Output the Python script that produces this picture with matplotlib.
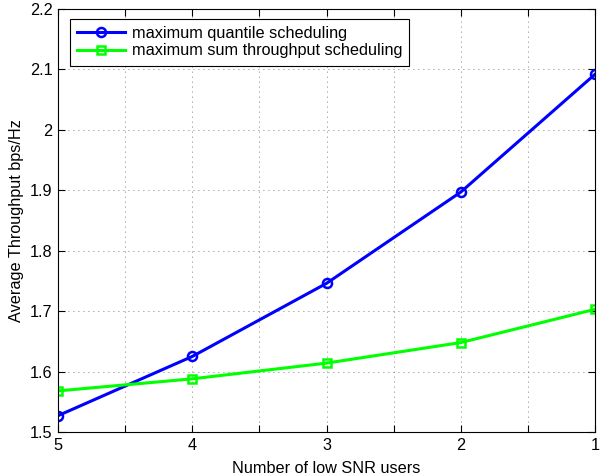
import matplotlib
matplotlib.use("Agg")
import matplotlib.pyplot as plt
from matplotlib.ticker import MultipleLocator, FuncFormatter

plt.rcParams['font.family'] = ['Liberation Sans', 'DejaVu Sans']

users = [5, 4, 3, 2, 1]
quantile = [1.527, 1.625, 1.746, 1.897, 2.092]
sumtp = [1.568, 1.588, 1.614, 1.648, 1.703]
labels = ['maximum quantile scheduling', 'maximum sum throughput scheduling']

FS = 11.7

fig = plt.figure(figsize=(6.0, 4.76), dpi=100)
ax = fig.add_axes([58/600, 1-432/476, (595-58)/600, (432-9)/476])

ax.plot(users, quantile, color=(0, 0, 1), lw=2.2, marker='o', ms=6.5,
        mfc='none', mec=(0, 0, 1), mew=1.8, label=labels[0])
ax.plot(users, sumtp, color=(0, 1, 0), lw=2.2, marker='s', ms=6,
        mfc='none', mec=(0, 1, 0), mew=1.8, label=labels[1])

ax.set_xlim(5, 1)
ax.set_ylim(1.5, 2.2)
ax.xaxis.set_major_locator(MultipleLocator(0.5))
ax.xaxis.set_major_formatter(FuncFormatter(lambda v, p: f"{int(round(v))}" if abs(v - round(v)) < 1e-6 else ""))
ax.yaxis.set_major_locator(MultipleLocator(0.1))
ax.yaxis.set_major_formatter(FuncFormatter(lambda v, p: f"{v:g}"))

ax.tick_params(direction='in', top=True, right=True, labelsize=FS, length=5, width=0.8, pad=4)
ax.grid(True, linestyle=(0, (1, 5)), color='#555555', linewidth=0.6)
for s in ax.spines.values():
    s.set_linewidth(0.8)

ax.set_xlabel('Number of low SNR users', fontsize=FS, labelpad=6)
ax.set_ylabel('Average Throughput bps/Hz', fontsize=FS, labelpad=4)

leg = ax.legend(loc='upper left', fontsize=FS, fancybox=False, edgecolor='black',
                framealpha=1, borderaxespad=0.6, handlelength=2.95, borderpad=0.45,
                labelspacing=0.15, handletextpad=0.4, bbox_to_anchor=(0.004, 1.0))
leg.get_frame().set_linewidth(0.8)

fig.savefig('out.png', dpi=100)
